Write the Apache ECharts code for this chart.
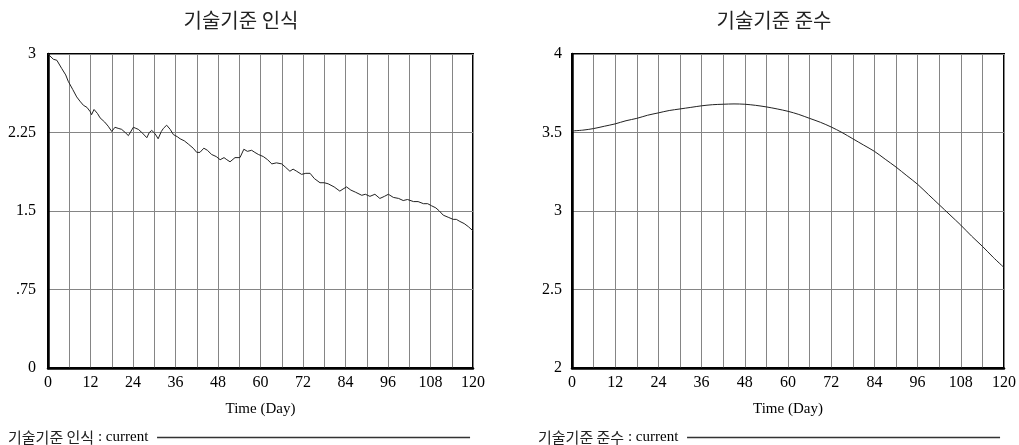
<!DOCTYPE html>
<html>
<head>
<meta charset="utf-8">
<script src="https://cdn.jsdelivr.net/npm/echarts@6/dist/echarts.min.js"></script>
<style>
html,body{margin:0;padding:0;background:#fff;}
#chart{width:1019px;height:445px;}
</style>
</head>
<body>
<div id="chart"></div>
<script>
const titleLeft = '기술기준 인식';
const titleRight = '기술기준 준수';
const xTicks = [0, 12, 24, 36, 48, 60, 72, 84, 96, 108, 120];
const yTicksLeft = ['0', '.75', '1.5', '2.25', '3'];
const yTicksRight = ['2', '2.5', '3', '3.5', '4'];

const awarenessDays = [0, 0.5, 1.5, 2.5, 3.9, 5, 5.7, 7, 8.1, 9, 10, 11, 11.9, 12.3, 13, 14, 14.7, 16, 17, 18, 18.9, 19.8, 20.8, 21.8, 22.7, 24.1, 24.8, 25.5, 26.5, 27.9, 28.6, 29.3, 30.2, 31.1, 32, 32.6, 33.5, 34.5, 35.4, 36.5, 37.3, 38.5, 39.6, 41, 42, 42.9, 44, 45, 46.2, 47.5, 48.6, 49.7, 50.5, 51.4, 52.8, 54.2, 55.3, 56.3, 57.5, 58.4, 59.4, 60.8, 62, 63.2, 64.5, 66, 67, 68.3, 69.2, 70.2, 71.6, 72.8, 74, 75.2, 76.8, 78, 79.1, 80.8, 82.4, 83.3, 84.3, 85.5, 86.8, 88.6, 89.6, 90.9, 92.3, 93.7, 95, 96.1, 97.5, 99, 100.3, 101.5, 103.2, 104.5, 106, 107.2, 108.3, 109.5, 110.5, 111.6, 113, 114.4, 115.3, 116.3, 117.5, 118.7, 120];
const awarenessValues = [3.0, 2.99, 2.95, 2.94, 2.86, 2.8, 2.74, 2.66, 2.59, 2.55, 2.51, 2.49, 2.45, 2.42, 2.47, 2.43, 2.39, 2.35, 2.31, 2.26, 2.30, 2.29, 2.28, 2.25, 2.22, 2.30, 2.29, 2.28, 2.25, 2.20, 2.25, 2.27, 2.24, 2.19, 2.26, 2.29, 2.32, 2.28, 2.23, 2.21, 2.19, 2.17, 2.14, 2.10, 2.06, 2.06, 2.10, 2.08, 2.04, 2.02, 1.99, 2.01, 1.99, 1.97, 2.01, 2.01, 2.09, 2.07, 2.08, 2.06, 2.04, 2.02, 1.99, 1.95, 1.96, 1.95, 1.92, 1.88, 1.90, 1.88, 1.85, 1.86, 1.86, 1.81, 1.77, 1.77, 1.76, 1.73, 1.69, 1.71, 1.73, 1.70, 1.68, 1.65, 1.66, 1.64, 1.66, 1.62, 1.64, 1.66, 1.63, 1.62, 1.60, 1.61, 1.59, 1.59, 1.57, 1.57, 1.55, 1.53, 1.50, 1.46, 1.44, 1.42, 1.42, 1.40, 1.38, 1.35, 1.31];

const complianceDays = [0, 3, 6, 9, 12, 15, 18, 21, 24, 27, 30, 33, 36, 39, 42, 45, 48, 51, 54, 57, 60, 63, 66, 69, 72, 75, 78, 81, 84, 87, 90, 93, 96, 99, 102, 105, 108, 111, 114, 117, 120];
const complianceValues = [3.51, 3.515, 3.525, 3.54, 3.555, 3.575, 3.59, 3.61, 3.625, 3.64, 3.65, 3.66, 3.67, 3.677, 3.68, 3.682, 3.68, 3.673, 3.663, 3.65, 3.635, 3.615, 3.59, 3.565, 3.535, 3.5, 3.46, 3.42, 3.38, 3.33, 3.28, 3.225, 3.17, 3.105, 3.04, 2.975, 2.91, 2.84, 2.775, 2.705, 2.64];

const serif = '"Liberation Serif", "Times New Roman", serif';
const kor = '"Noto Sans CJK KR", sans-serif';

function pairs(xs, ys) { return xs.map((x, i) => [x, ys[i]]); }

function xAxisFor(gi) {
  return {
    type: 'value', gridIndex: gi, min: xTicks[0], max: xTicks[xTicks.length - 1], interval: 12,
    name: 'Time (Day)', nameLocation: 'middle', nameGap: 34,
    nameTextStyle: { fontFamily: serif, fontSize: 15, color: '#000' },
    axisLine: { show: true, onZero: false, lineStyle: { color: '#000', width: 2.5 } },
    axisTick: { show: false },
    axisLabel: { fontFamily: serif, fontSize: 16, color: '#000', margin: 7,
      formatter: v => xTicks.includes(v) ? String(v) : '' },
    splitLine: { show: true, lineStyle: { color: '#858585', width: 1 } },
    minorTick: { show: false, splitNumber: 2 },
    minorSplitLine: { show: true, lineStyle: { color: '#858585', width: 1 } }
  };
}
function yAxisFor(gi, ticks, interval, margin) {
  const nums = ticks.map(Number);
  return {
    type: 'value', gridIndex: gi, min: nums[0], max: nums[nums.length - 1], interval: interval,
    axisLine: { show: true, onZero: false, lineStyle: { color: '#000', width: 2.5 } },
    axisTick: { show: false },
    axisLabel: { fontFamily: serif, fontSize: 16, color: '#000', margin: margin,
      formatter: v => { const i = nums.findIndex(n => Math.abs(n - v) < 1e-9); return i >= 0 ? ticks[i] : ''; } },
    splitLine: { show: true, lineStyle: { color: '#858585', width: 1 } }
  };
}

const chart = echarts.init(document.getElementById('chart'), null, { renderer: 'canvas' });
chart.setOption({
  backgroundColor: '#fff',
  animation: false,
  title: [
    { text: titleLeft, left: 236, top: 5, textAlign: 'center',
      textStyle: { fontFamily: kor, fontSize: 20, fontWeight: 'normal', color: '#222' } },
    { text: titleRight, left: 769, top: 5, textAlign: 'center',
      textStyle: { fontFamily: kor, fontSize: 20, fontWeight: 'normal', color: '#222' } }
  ],
  grid: [
    { left: 48, top: 54, width: 425, height: 314, show: true, borderColor: '#000', borderWidth: 2, backgroundColor: 'transparent' },
    { left: 572, top: 54, width: 433, height: 314, show: true, borderColor: '#000', borderWidth: 2, backgroundColor: 'transparent' }
  ],
  xAxis: [xAxisFor(0), xAxisFor(1)],
  yAxis: [yAxisFor(0, yTicksLeft, 0.75, 12), yAxisFor(1, yTicksRight, 0.5, 10)],
  legend: [
    { data: [titleLeft], left: 3, top: 425, align: 'right', icon: 'rect', itemWidth: 313, itemHeight: 1.5,
      formatter: n => '{k|' + n + '}{s| : current }',
      textStyle: { rich: { k: { fontFamily: kor, fontSize: 15, color: '#222' }, s: { fontFamily: serif, fontSize: 15, color: '#000' } } } },
    { data: [titleRight], left: 533, top: 425, align: 'right', icon: 'rect', itemWidth: 313, itemHeight: 1.5,
      formatter: n => '{k|' + n + '}{s| : current }',
      textStyle: { rich: { k: { fontFamily: kor, fontSize: 15, color: '#222' }, s: { fontFamily: serif, fontSize: 15, color: '#000' } } } }
  ],
  series: [
    { name: titleLeft, type: 'line', xAxisIndex: 0, yAxisIndex: 0, data: pairs(awarenessDays, awarenessValues),
      showSymbol: false, lineStyle: { color: '#222', width: 1 }, itemStyle: { color: '#333' } },
    { name: titleRight, type: 'line', xAxisIndex: 1, yAxisIndex: 1, data: pairs(complianceDays, complianceValues),
      showSymbol: false, smooth: 0.3, lineStyle: { color: '#222', width: 1 }, itemStyle: { color: '#333' } }
  ]
});
</script>
</body>
</html>
